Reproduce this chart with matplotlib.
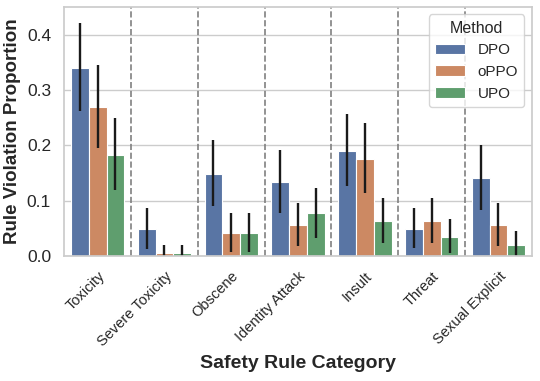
import matplotlib
matplotlib.use('Agg')
import matplotlib.pyplot as plt
import numpy as np
import seaborn as sns

categories = ['Toxicity', 'Severe Toxicity', 'Obscene', 'Identity Attack',
              'Insult', 'Threat', 'Sexual Explicit']
methods = ['DPO', 'oPPO', 'UPO']

dpo = [0.340, 0.048, 0.148, 0.134, 0.190, 0.048, 0.141]
oppo = [0.270, 0.006, 0.041, 0.056, 0.176, 0.063, 0.056]
upo = [0.183, 0.006, 0.041, 0.077, 0.063, 0.034, 0.020]

dpo_lo = [0.262, 0.013, 0.090, 0.078, 0.126, 0.014, 0.083]
dpo_hi = [0.420, 0.086, 0.209, 0.191, 0.257, 0.086, 0.200]
oppo_lo = [0.195, 0.000, 0.008, 0.018, 0.114, 0.023, 0.018]
oppo_hi = [0.345, 0.020, 0.077, 0.095, 0.240, 0.104, 0.095]
upo_lo = [0.120, 0.000, 0.008, 0.033, 0.023, 0.005, 0.000]
upo_hi = [0.250, 0.020, 0.077, 0.123, 0.104, 0.066, 0.045]

sns.set_theme(style='whitegrid')
plt.rcParams['font.family'] = ['Liberation Sans', 'DejaVu Sans']

# seaborn "deep" palette, desaturated like barplot does
colors = ['#5975A4', '#CC8963', '#5F9E6E']
series = [(dpo, dpo_lo, dpo_hi), (oppo, oppo_lo, oppo_hi), (upo, upo_lo, upo_hi)]

fig, ax = plt.subplots(figsize=(5.4, 3.81), dpi=100)
fig.subplots_adjust(left=0.119, right=0.985, top=0.982, bottom=0.328)

x = np.arange(len(categories))
width = 0.8 / 3
for i, (vals, lo, hi) in enumerate(series):
    vals = np.array(vals)
    err = [vals - np.array(lo), np.array(hi) - vals]
    pos = x + (i - 1) * width
    ax.bar(pos, vals, width, color=colors[i], edgecolor='white', linewidth=0.8,
           label=methods[i])
    ax.errorbar(pos, vals, yerr=err, fmt='none', ecolor='#1a1a1a', elinewidth=1.7,
                capsize=0)

for b in x[:-1] + 0.5:
    ax.axvline(b, color='grey', linestyle='--', linewidth=1.2)

ax.set_xlim(-0.5, len(categories) - 0.5)
ax.set_ylim(0, 0.45)
ax.set_yticks([0.0, 0.1, 0.2, 0.3, 0.4])
ax.xaxis.grid(False)
ax.set_xticks(x)
ax.set_xticklabels(categories, rotation=45, ha='right', rotation_mode='anchor', fontsize=10.5)
ax.tick_params(axis='y', labelsize=12.5)
ax.set_xlabel('Safety Rule Category', fontsize=14, fontweight='bold')
ax.set_ylabel('Rule Violation Proportion', fontsize=13.5, fontweight='bold')
ax.legend(title='Method', loc='upper right', fontsize=11, title_fontsize=11.5)

fig.savefig('out.png', dpi=100)
